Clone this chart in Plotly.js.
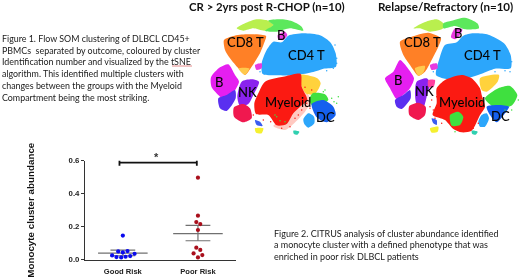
<!DOCTYPE html>
<html><head><meta charset="utf-8">
<script src="https://cdn.plot.ly/plotly-3.0.1.min.js"></script>
<style>html,body{margin:0;padding:0;background:#fff}#chart{width:520px;height:278px;filter:blur(.3px)}</style>
</head><body><div id="chart"></div>
<script>
// Dot plot data (Figure 2)
const groupLabels = ['Good Risk','Poor Risk'];
const goodX = [0,-0.143,-0.085,-0.022,0.036,0.098,0.156,-0.062,0,0.062];
const goodY = [0.146,0.026,0.016,0.014,0.018,0.022,0.036,0.05,0.044,0.052];
const poorX = [1,1,0.978,1.031,1,0.978,1.031,0.942,1.058,1];
const poorY = [0.497,0.267,0.228,0.216,0.18,0.073,0.059,0.038,0.028,0.014];
const groupMeans = [0.04,0.158];
const groupUpper = [0.058,0.208];
const groupLower = [0.024,0.115];
const yTicks = [0,0.2,0.4,0.6];

// t-SNE cluster outlines, left panel (CR > 2yrs)
const L_band1 = [[80,85],[105,70],[140,58],[175,62],[190,75],[165,92],[130,85],[100,92]];
const L_band2 = [[175,62],[215,58],[250,65],[275,80],[280,92],[240,85],[200,95],[165,92],[190,75]];
const L_cd8 = [[42,120],[70,108],[110,103],[168,108],[162,130],[150,160],[125,200],[105,225],[85,205],[60,175],[45,150]];
const L_cd8y = [[85,205],[118,205],[105,225]];
const L_bs = [[203,105],[225,95],[232,105],[220,120],[205,118]];
const L_cd4 = [[235,107],[280,100],[330,106],[362,128],[377,160],[378,200],[340,206],[310,216],[260,225],[200,226],[158,222],[155,190],[170,150],[190,125],[215,127]];
const L_mini1 = [[135,195],[155,190],[155,205],[140,210]];
const L_b = [[3,232],[30,202],[55,193],[75,225],[87,245],[70,280],[55,310],[30,290],[5,262]];
const L_bv = [[25,295],[50,285],[75,270],[77,295],[50,333],[30,325]];
const L_nk = [[95,245],[125,238],[147,245],[130,285],[115,312],[90,317],[82,290]];
const L_crim = [[72,322],[100,312],[120,325],[125,355],[100,367],[72,350]];
const L_mye = [[165,245],[230,228],[272,222],[275,260],[292,300],[270,320],[250,340],[230,372],[200,376],[175,345],[138,342],[133,310],[145,280]];
const L_myefade = [[270,222],[275,260],[305,300],[285,335],[250,372],[225,390],[190,378],[230,350],[250,330]];
const L_yel = [[270,225],[322,235],[332,250],[315,282],[290,282],[275,260]];
const L_grn = [[308,280],[345,283],[355,300],[312,322],[298,300]];
const L_dc = [[305,312],[340,300],[370,320],[377,345],[350,367],[320,352]];
const L_oval = [[280,358],[295,340],[312,350],[313,370],[295,383],[283,372]];
const L_tiny1 = [[135,385],[160,385],[155,400],[138,398]];
const L_tiny2 = [[135,360],[150,365],[158,378],[140,375]];
const L_tiny3 = [[250,392],[268,395],[262,404],[252,402]];

// t-SNE cluster outlines, right panel (Relapse/Refractory)
const R_band1 = [[145,85],[175,68],[215,58],[235,70],[235,85],[195,95],[165,85]];
const R_band2 = [[235,70],[260,62],[300,53],[337,70],[342,85],[300,88],[270,78],[235,85]];
const R_cd8 = [[105,125],[140,110],[190,98],[228,115],[220,140],[205,170],[180,215],[160,227],[135,195],[115,165]];
const R_cd8y = [[150,205],[180,198],[175,218],[160,227]];
const R_bs = [[258,112],[270,85],[292,88],[285,105],[270,118]];
const R_cd4 = [[295,107],[325,100],[370,104],[417,130],[437,165],[437,205],[390,206],[350,221],[300,236],[240,236],[213,225],[225,170],[240,135],[275,127]];
const R_mini1 = [[195,195],[215,190],[218,205],[200,210]];
const R_b = [[60,235],[85,215],[105,180],[125,200],[147,235],[135,265],[115,285],[95,297],[75,265]];
const R_bv = [[90,300],[115,285],[135,270],[137,295],[110,327],[95,320]];
const R_nk = [[155,245],[185,235],[195,250],[185,290],[175,322],[155,312],[150,280]];
const R_pink = [[190,240],[210,240],[205,262],[190,260]];
const R_crim = [[133,318],[160,308],[182,320],[180,345],[160,360],[133,345]];
const R_mye = [[215,265],[240,240],[290,225],[320,235],[345,265],[350,285],[360,320],[345,345],[320,392],[290,397],[265,387],[240,360],[203,345],[215,310]];
const R_yel = [[345,235],[402,225],[398,245],[365,275],[350,270]];
const R_grn = [[360,295],[400,265],[435,258],[457,285],[442,315],[415,325],[385,320]];
const R_dc = [[365,320],[400,315],[432,320],[420,340],[395,367],[375,345]];
const R_oval = [[340,365],[350,345],[365,340],[372,355],[360,380],[345,380]];
const R_grn2 = [[255,345],[280,335],[295,350],[285,375],[260,377]];
const R_tiny1 = [[195,385],[220,380],[218,395],[200,398]];
const R_tiny2 = [[200,355],[215,360],[215,375],[205,370]];
const R_tiny3 = [[320,392],[338,395],[332,404],[322,402]];

// Sparse events around the clusters, read by eye
const L_specksRed = [[280,285],[290,310],[275,330],[300,325],[255,355],[240,380],[215,385],[265,345],[130,345],[160,360],[285,262],[305,270],[182,365]];
const L_specksGrn = [[365,295],[385,290],[372,305],[340,275],[200,350],[210,362],[195,345],[225,365],[345,270],[380,310]];
const L_specksSky = [[380,190],[370,205],[350,212],[150,215],[375,135],[380,175]];
const R_specksRed = [[205,330],[195,320],[210,355],[230,370],[340,370],[325,385],[350,330],[200,300],[215,290]];
const R_specksGrn = [[350,300],[345,310],[460,300],[440,330],[270,395],[420,330]];
const R_specksSky = [[440,185],[435,215],[420,212],[230,230],[390,215],[205,215]];

// Text
const captionOne = ['Figure 1. Flow SOM clustering of DLBCL CD45+','PBMCs  separated by outcome, coloured by cluster','Identification number and visualized by the tSNE','algorithm. This identified multiple clusters with','changes between the groups with the Myeloid','Compartment being the most striking.'];
const captionTwo = ['Figure 2. CITRUS analysis of cluster abundance identified','a monocyte cluster with a defined phenotype that was','enriched in poor risk DLBCL patients'];
const panelTitles = ['CR > 2yrs post R-CHOP (n=10)','Relapse/Refractory (n=10)'];
const clusterLabels = ['CD8 T','B','CD4 T','B','NK','Myeloid','DC'];
const labelPosL = [[105,125],[212,105],[290,165],[28,245],[113,275],[235,305],[345,352]];
const labelPosR = [[172,125],[278,100],[352,165],[98,240],[178,272],[290,305],[405,348]];

const C = {orange:'#ff8026',amber:'#ffc94d',lime:'#b9ef4e',green:'#5ce85c',mag:'#e83ae0',sky:'#2ca6fb',b:'#e51ff0',violet:'#5a2ff0',nk:'#8a22ee',crim:'#f0184f',red:'#fb1a12',fade:'rgba(255,120,100,.4)',yel:'#ffd23c',g2:'#3fe03f',dc:'#1560ee',pink:'#ff3fa0',blue:'#3a5cf0',teal:'#30d0b0',ty:'#f5f030'};
const traces = [];
function blob(pts,color,ax){
  traces.push({type:'scatter',mode:'lines',line:{width:0,shape:'spline',smoothing:0.7},fill:'toself',fillcolor:color,hoverinfo:'skip',showlegend:false,
    x:pts.map(p=>p[0]).concat(pts[0][0]),y:pts.map(p=>p[1]).concat(pts[0][1]),xaxis:'x'+ax,yaxis:'y'+ax});
}
function specks(pts,color,ax){
  traces.push({type:'scatter',mode:'markers',marker:{color:color,size:1.5},hoverinfo:'skip',showlegend:false,
    x:pts.map(p=>p[0]),y:pts.map(p=>p[1]),xaxis:'x'+ax,yaxis:'y'+ax});
}
[[L_band1,C.lime],[L_band2,C.green],[L_cd8,C.orange],[L_cd8y,C.amber],[L_bs,C.mag],[L_cd4,C.sky],[L_mini1,C.mag],[L_b,C.b],[L_bv,C.violet],[L_nk,C.nk],[L_crim,C.crim],[L_myefade,C.fade],[L_yel,C.yel],[L_mye,C.red],[L_grn,C.g2],[L_dc,C.dc],[L_oval,C.sky],[L_tiny1,C.ty],[L_tiny2,C.blue],[L_tiny3,C.teal]].forEach(b=>blob(b[0],b[1],2));
[[R_band1,C.lime],[R_band2,C.green],[R_cd8,C.orange],[R_cd8y,C.amber],[R_bs,C.mag],[R_cd4,C.sky],[R_mini1,C.mag],[R_b,C.b],[R_bv,C.violet],[R_nk,C.nk],[R_pink,C.pink],[R_crim,C.crim],[R_yel,C.yel],[R_mye,C.red],[R_grn,C.g2],[R_dc,C.dc],[R_oval,C.sky],[R_grn2,C.g2],[R_tiny1,C.ty],[R_tiny2,C.blue],[R_tiny3,C.teal]].forEach(b=>blob(b[0],b[1],3));
specks(L_specksRed,C.red,2);specks(L_specksGrn,C.g2,2);specks(L_specksSky,C.sky,2);
specks(R_specksRed,C.red,3);specks(R_specksGrn,C.g2,3);specks(R_specksSky,C.sky,3);

// Mean / SEM lines
const wM=0.33,wS=0.165;
groupMeans.forEach((m,i)=>{
  traces.push({type:'scatter',mode:'lines',hoverinfo:'skip',showlegend:false,cliponaxis:false,
    line:{color:'#707070',width:1.2},
    x:[i-wM,i+wM,null,i-wS,i+wS,null,i-wS,i+wS,null,i,i],
    y:[m,m,null,groupUpper[i],groupUpper[i],null,groupLower[i],groupLower[i],null,groupLower[i],groupUpper[i]]});
});
traces.push({type:'scatter',mode:'markers',x:goodX,y:goodY,showlegend:false,cliponaxis:false,marker:{color:'#0a0aee',size:4.2}});
traces.push({type:'scatter',mode:'markers',x:poorX,y:poorY,showlegend:false,cliponaxis:false,marker:{color:'#a90f1c',size:4.2}});
// Significance bracket
traces.push({type:'scatter',mode:'lines',showlegend:false,hoverinfo:'skip',cliponaxis:false,line:{color:'#111',width:1.8},
  x:[-0.045,-0.045,null,-0.045,0.985,null,0.985,0.985],y:[0.57,0.606,null,0.588,0.588,null,0.57,0.606]});

const ann=[];
function txt(text,x,y,size,opt){
  ann.push(Object.assign({text:text,x:x/520,y:1-y/278,xref:'paper',yref:'paper',showarrow:false,borderpad:0,
    xanchor:'left',yanchor:'middle',font:{family:'Lato',size:size,color:'#1a1a1a'}},opt||{}));
}
captionOne.forEach((t,i)=>txt(t,1,38.3+i*11.8,8.9));
captionTwo.forEach((t,i)=>txt(t,273,233+i*11.9,9));
txt(panelTitles[0],267,7,11.4,{xanchor:'center',font:{family:'Lato',size:11.4,color:'#111',weight:700}});
txt(panelTitles[1],445,7,11.6,{xanchor:'center',font:{family:'Lato',size:11.6,color:'#111',weight:700}});
function lab(pos,xa,ya){
  clusterLabels.forEach((t,i)=>ann.push({text:t,x:pos[i][0],y:pos[i][1],xref:xa,yref:ya,showarrow:false,borderpad:0,
    font:{family:'Lato',size:13,color:'#050505',weight:500}}));
}
lab(labelPosL,'x2','y2'); lab(labelPosR,'x3','y3');
txt('*',156,157,11,{xanchor:'center',font:{family:'Liberation Sans',size:11,color:'#333',weight:700}});

const hidden=d=>({domain:d,visible:false,fixedrange:true});
const layout={width:520,height:278,margin:{l:0,r:0,t:0,b:0},paper_bgcolor:'#fff',plot_bgcolor:'rgba(0,0,0,0)',showlegend:false,
  xaxis:{domain:[85.3/520,235.5/520],range:[-0.5,1.5],tickvals:[0,1],ticktext:groupLabels,ticks:'',showgrid:false,zeroline:false,showline:true,linecolor:'#333',linewidth:1.3,
    ticklabelstandoff:4,tickfont:{family:'Liberation Sans',size:7.6,color:'#222',weight:700}},
  yaxis:{domain:[1-259.7/278,1-160.7/278],range:[0,0.6],tickvals:yTicks,ticktext:['0.0','0.2','0.4','0.6'],ticks:'outside',ticklen:3,tickwidth:1.3,tickcolor:'#333',showgrid:false,zeroline:false,showline:true,linecolor:'#333',linewidth:1.3,
    tickfont:{family:'Liberation Sans',size:7.8,color:'#222',weight:700},
    title:{text:'Monocyte cluster abundance',standoff:32,font:{family:'Liberation Sans',size:9.8,color:'#111',weight:700}}},
  xaxis2:hidden([210/520,370/520]),yaxis2:hidden([1-135/278,1]),
  xaxis3:hidden([365/520,1]),yaxis3:hidden([1-135/278,1]),
  annotations:ann,
  shapes:[{type:'line',xref:'paper',yref:'paper',x0:172/520,x1:192/520,y0:1-66/278,y1:1-66/278,line:{color:'#e07070',width:0.8}}]
};
layout.xaxis2.range=[0,480];layout.yaxis2.range=[405,0];
layout.xaxis3.range=[0,465];layout.yaxis3.range=[405,0];
layout.xaxis2.anchor='y2';layout.yaxis2.anchor='x2';layout.xaxis3.anchor='y3';layout.yaxis3.anchor='x3';
Plotly.newPlot('chart',traces,layout,{staticPlot:true,displayModeBar:false});
</script></body></html>
